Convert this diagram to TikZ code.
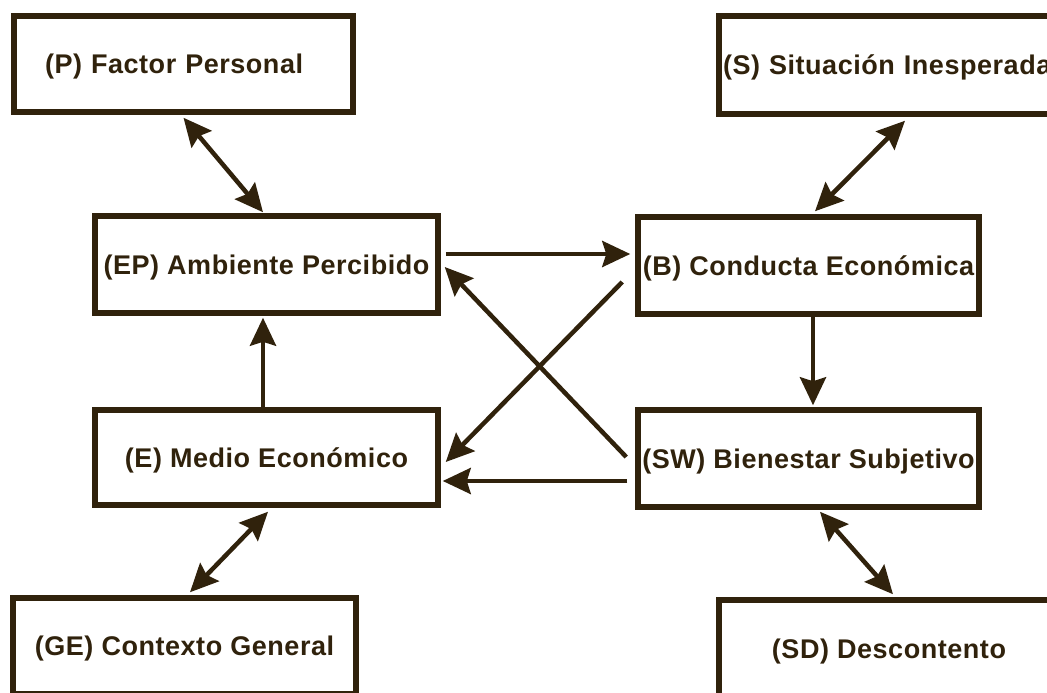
\documentclass[tikz,border=0pt]{standalone}
\usepackage{fontspec}
\setmainfont{Liberation Sans}
\newfontfamily\boxfont[LetterSpace=2]{Liberation Sans}
\usetikzlibrary{arrows.meta}
\definecolor{ink}{RGB}{48,34,12}
\begin{document}
\begin{tikzpicture}[x=1pt,y=-1pt,
  box/.style={draw=ink, line width=5.5pt, rectangle, inner sep=0pt, text=ink, text depth=0pt,
    font=\boxfont\bfseries\fontsize{27}{32}\selectfont},
  tip/.tip={Stealth[length=28pt,width=26pt,inset=4pt]},
  link/.style={draw=ink, line width=4.5pt, -tip},
  both/.style={draw=ink, line width=4.5pt, tip-tip}]
\useasboundingbox (0,0) rectangle (1047,693);
\clip (0,0) rectangle (1047,693);
\fill[white] (0,0) rectangle (1047,693);
\node[box, text width=277pt, align=left, inner xsep=31pt, minimum height=96pt] (P)  at (183.5,64)  {(P) Factor Personal};
\node[box, text width=345pt, align=left, inner xsep=4pt, minimum height=98pt] (S)  at (895.5,65)  {(S) Situación Inesperada};
\node[box, minimum width=343pt, minimum height=97pt] (EP) at (266.5,264.5) {(EP) Ambiente Percibido};
\node[box, minimum width=341pt, minimum height=97pt] (B)  at (808.5,265.5) {(B) Conducta Económica};
\node[box, minimum width=343pt, minimum height=95pt] (E)  at (266.5,457.5) {(E) Medio Económico};
\node[box, minimum width=341pt, minimum height=97pt] (SW) at (808.5,458.5) {(SW) Bienestar Subjetivo};
\node[box, minimum width=343pt, minimum height=96pt] (GE) at (184.5,646) {(GE) Contexto General};
\node[box, minimum width=340pt, minimum height=97pt] (SD) at (889,648.5) {(SD) Descontento};

\draw[both] ([yshift=-3pt]P.south) -- ([xshift=-3.5pt,yshift=1pt]EP.north);
\draw[both] ([xshift=9.5pt,yshift=-4pt]S.south) -- ([xshift=6.5pt,yshift=3pt]B.north);
\draw[link] ([xshift=5pt,yshift=10.5pt]EP.east) -- ([xshift=-5pt,yshift=11.5pt]B.west);
\draw[link] ([xshift=-3.5pt]E.north) -- ([xshift=-3.5pt,yshift=-2pt]EP.south);
\draw[link] ([xshift=-13pt,yshift=-16.5pt]B.west) -- ([xshift=5pt,yshift=-4.5pt]E.east);
\draw[link] ([xshift=-9pt,yshift=1.5pt]SW.west) -- ([xshift=4pt,yshift=-2.5pt]EP.east);
\draw[link] ([xshift=-8pt,yshift=-22.5pt]SW.west) -- ([xshift=2pt,yshift=-23.5pt]E.east);
\draw[link] ([xshift=4.5pt]B.south) -- ([xshift=4.5pt,yshift=2pt]SW.north);
\draw[both] ([xshift=1.5pt,yshift=-4pt]E.south) -- ([xshift=5.5pt,yshift=3pt]GE.north);
\draw[both] ([xshift=11.5pt,yshift=-2pt]SW.south) -- ([xshift=4pt,yshift=3pt]SD.north);
\end{tikzpicture}
\end{document}
